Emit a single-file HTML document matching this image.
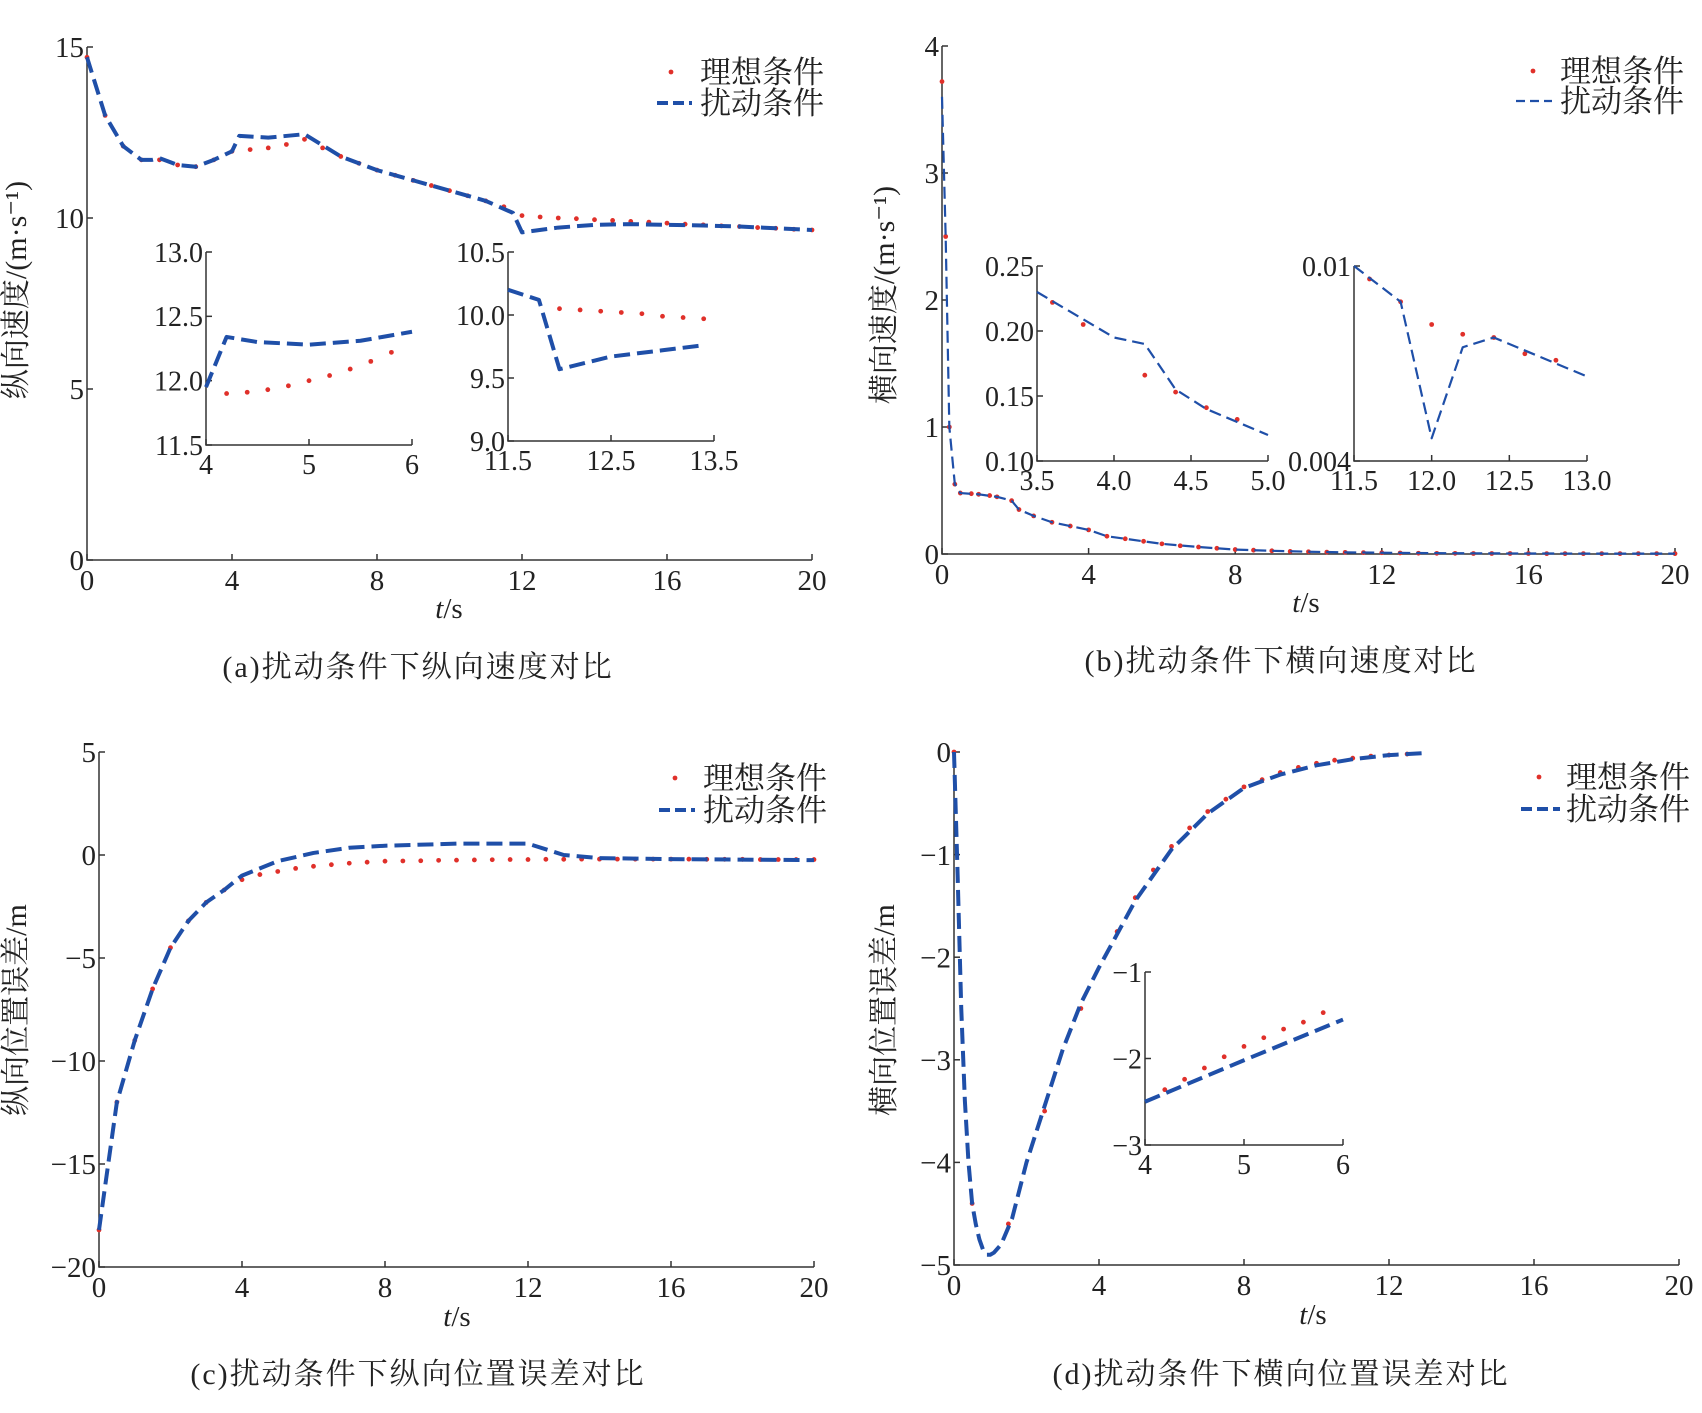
<!DOCTYPE html>
<html><head><meta charset="utf-8">
<style>
body{margin:0;background:#fff}
svg{display:block}
text{font-family:"Liberation Serif","Noto Serif CJK SC",serif;fill:#222}
</style></head>
<body>
<svg id="c" width="1702" height="1413" viewBox="0 0 1702 1413" xmlns="http://www.w3.org/2000/svg"></svg>
<script>
// ---- data ----
const aIdealT=[0,0.5,1,1.5,2,2.5,3,3.5,4,4.5,5,5.5,6,6.5,7,7.5,8,8.5,9,9.5,10,10.5,11,11.5,12,12.5,13,13.5,14,14.5,15,15.5,16,16.5,17,17.5,18,18.5,19,19.5,20];
const aIdealV=[14.7,13.0,12.1,11.7,11.7,11.55,11.5,11.7,11.95,12.0,12.05,12.15,12.3,12.05,11.8,11.6,11.4,11.25,11.1,10.95,10.8,10.65,10.5,10.33,10.07,10.03,10.0,9.98,9.95,9.93,9.9,9.88,9.85,9.82,9.8,9.77,9.75,9.72,9.7,9.67,9.65];
const aDistT=[0,0.5,1,1.5,1.8,2,2.5,3,3.5,4,4.2,5,6,7,8,9,10,11,11.75,12,13,14,15,16,17,18,19,20];
const aDistV=[14.7,13.0,12.1,11.7,11.7,11.75,11.55,11.5,11.7,11.95,12.4,12.35,12.45,11.8,11.4,11.1,10.8,10.5,10.15,9.58,9.72,9.8,9.82,9.8,9.78,9.75,9.7,9.65];
const a1IdealT=[4.2,4.4,4.6,4.8,5.0,5.2,5.4,5.6,5.8];
const a1IdealV=[11.9,11.91,11.93,11.96,12.0,12.04,12.09,12.15,12.22];
const a1DistT=[4,4.2,4.5,5,5.5,6];
const a1DistV=[11.95,12.34,12.3,12.28,12.31,12.38];
const a2IdealT=[12.0,12.2,12.4,12.6,12.8,13.0,13.2,13.4];
const a2IdealV=[10.05,10.04,10.03,10.02,10.01,9.99,9.98,9.97];
const a2DistT=[11.5,11.8,12.0,12.5,13.0,13.4];
const a2DistV=[10.2,10.12,9.57,9.67,9.72,9.76];
const bIdealT=[0,0.1,0.2,0.35,0.5,0.8,1,1.3,1.5,1.9,2.1,2.5,3,3.5,4,4.5,5,5.5,6,6.5,7,7.5,8,8.5,9,9.5,10,10.5,11,11.5,12,12.5,13,13.5,14,14.5,15,15.5,16,16.5,17,17.5,18,18.5,19,19.5,20];
const bIdealV=[3.72,2.5,1.0,0.55,0.48,0.475,0.47,0.46,0.45,0.42,0.35,0.3,0.25,0.22,0.19,0.14,0.12,0.1,0.08,0.065,0.055,0.045,0.035,0.03,0.025,0.02,0.018,0.015,0.013,0.011,0.01,0.008,0.006,0.005,0.005,0.004,0.004,0.004,0.004,0.003,0.003,0.003,0.003,0.003,0.003,0.003,0.003];
const bDistT=[0,0.1,0.2,0.35,0.5,1,1.5,1.9,2.1,2.5,3,3.5,4,4.5,5,6,7,8,9,10,11,12,14,16,18,20];
const bDistV=[3.6,2.5,1.0,0.55,0.48,0.47,0.45,0.42,0.35,0.3,0.25,0.22,0.19,0.14,0.12,0.08,0.055,0.035,0.025,0.018,0.013,0.01,0.006,0.004,0.003,0.003];
const b1DistT=[3.5,4.0,4.2,4.4,4.6,5.0];
const b1DistV=[0.23,0.195,0.19,0.155,0.14,0.12];
const b1IdealT=[3.6,3.8,4.2,4.4,4.6,4.8];
const b1IdealV=[0.222,0.205,0.166,0.153,0.141,0.132];
const b2DistT=[11.5,11.8,12.0,12.2,12.4,13.0];
const b2DistV=[0.01,0.0089,0.0047,0.0075,0.0078,0.0066];
const b2IdealT=[11.6,11.8,12.0,12.2,12.4,12.6,12.8];
const b2IdealV=[0.0096,0.0089,0.0082,0.0079,0.0078,0.0073,0.0071];
const cIdealT=[0,0.5,1,1.5,2,2.5,3,3.5,4,4.5,5,5.5,6,6.5,7,7.5,8,8.5,9,9.5,10,10.5,11,11.5,12,12.5,13,13.5,14,14.5,15,15.5,16,16.5,17,17.5,18,18.5,19,19.5,20];
const cIdealV=[-18.2,-12,-9,-6.5,-4.5,-3.2,-2.3,-1.7,-1.2,-0.95,-0.8,-0.65,-0.55,-0.47,-0.4,-0.35,-0.3,-0.29,-0.28,-0.26,-0.25,-0.24,-0.23,-0.22,-0.22,-0.21,-0.21,-0.2,-0.2,-0.2,-0.2,-0.2,-0.2,-0.2,-0.21,-0.21,-0.21,-0.22,-0.22,-0.22,-0.22];
const cDistT=[0,0.5,1,1.5,2,2.5,3,3.5,4,5,6,7,8,10,12,13,14,16,20];
const cDistV=[-18.2,-12,-9,-6.5,-4.5,-3.2,-2.3,-1.7,-1.0,-0.3,0.1,0.35,0.45,0.55,0.55,0,-0.15,-0.2,-0.25];
const dDistT=[0,0.1,0.2,0.3,0.4,0.5,0.6,0.7,0.8,0.9,1.0,1.1,1.3,1.6,2,2.5,3,3.5,4,5,6,7,8,9,10,11,12,13];
const dDistV=[0,-1.2,-2.5,-3.4,-4.0,-4.4,-4.6,-4.75,-4.85,-4.9,-4.9,-4.88,-4.8,-4.55,-4.0,-3.45,-2.9,-2.45,-2.1,-1.45,-0.95,-0.6,-0.35,-0.22,-0.13,-0.07,-0.03,-0.01];
const dIdealT=[0,0.5,1.5,2.5,3.5,4.5,5,5.5,6,6.5,7,7.5,8,8.5,9,9.5,10,10.5,11,11.5,12,12.5];
const dIdealV=[0,-4.4,-4.6,-3.5,-2.5,-1.75,-1.42,-1.15,-0.92,-0.74,-0.58,-0.46,-0.34,-0.27,-0.2,-0.15,-0.11,-0.08,-0.06,-0.04,-0.03,-0.02];
const d1DistT=[4,5,6];
const d1DistV=[-2.5,-2.02,-1.55];
const d1IdealT=[4.2,4.4,4.6,4.8,5.0,5.2,5.4,5.6,5.8];
const d1IdealV=[-2.36,-2.24,-2.11,-1.98,-1.86,-1.76,-1.66,-1.58,-1.47];

const NS="http://www.w3.org/2000/svg";
const svg=document.getElementById('c');
function mk(tag,attrs,parent){const e=document.createElementNS(NS,tag);for(const k in attrs)e.setAttribute(k,attrs[k]);(parent||svg).appendChild(e);return e;}
function txt(x,y,s,size,anchor,parent){const t=mk('text',{x:x,y:y,'font-size':size,'text-anchor':anchor||'middle'},parent);t.textContent=s;return t;}

function axes(name,px0,px1,py0,py1,xmin,xmax,ymin,ymax,xt,yt,fs,xlab,ylab){
  const g=mk('g',{});
  
  
  const sx=v=>px0+(v-xmin)/(xmax-xmin)*(px1-px0);
  const sy=v=>py0-(v-ymin)/(ymax-ymin)*(py0-py1);
  const ax=mk('path',{d:`M${px0},${py1}V${py0}H${px1}`,stroke:'#333','stroke-width':1.5,fill:'none'},g);
  
  
  xt.forEach(v=>{mk('line',{x1:sx(v),x2:sx(v),y1:py0,y2:py0-6,stroke:'#333','stroke-width':1.5},g);
    const t=txt(sx(v),py0+fs+1,xlab(v),fs,'middle',g);
    
    });
  yt.forEach(v=>{mk('line',{x1:px0,x2:px0+6,y1:sy(v),y2:sy(v),stroke:'#333','stroke-width':1.5},g);
    const t=txt(px0-3,sy(v)+fs*0.35,ylab(v),fs,'end',g);
    
    });
  return {g,sx,sy};
}
function line(A,T,V,w,dash,name){
  const p=mk('polyline',{points:T.map((t,i)=>A.sx(t)+','+A.sy(V[i])).join(' '),fill:'none',stroke:'#1f4fa8','stroke-width':w,'stroke-dasharray':dash,'stroke-linejoin':'round'},A.g);
  
  
}
function dots(A,T,V,name){
  const g=mk('g',{},A.g);
  
  
  T.forEach((t,i)=>mk('circle',{cx:A.sx(t),cy:A.sy(V[i]),r:2.4,fill:'#e0302a'},g));
}
function legend(name,dx,dy,tx,y1,y2,dash,w){
  const g=mk('g',{});
  
  
  mk('circle',{cx:dx,cy:y1,r:2.4,fill:'#e0302a'},g);
  txt(tx,y1+11,'理想条件',31,'start',g);
  mk('line',{x1:dy[0],x2:dy[1],y1:y2,y2:y2,stroke:'#1f4fa8','stroke-width':w,'stroke-dasharray':dash},g);
  txt(tx,y2+11,'扰动条件',31,'start',g);
}
function ylabel(name,x,y,s){
  const t=txt(0,0,s,30,'middle');
  t.setAttribute('transform',`translate(${x},${y}) rotate(-90)`);
  
  
}
function xlabel(name,x,y){
  const t=mk('text',{x:x,y:y,'font-size':29,'text-anchor':'middle'});
  t.innerHTML='<tspan font-style="italic">t</tspan>/s';
  
  
}
function caption(name,x,y,s){
  const t=txt(x,y,s,30,'middle');
  t.setAttribute('letter-spacing','2');
  
  
}
const f0=v=>String(v), f1=v=>v.toFixed(1), f2=v=>v.toFixed(2), fm=v=>v<0?'−'+Math.abs(v):String(v);
const T20=[0,4,8,12,16,20];
const DA='16 7', DB='12 6';

// (a)
let A=axes('plot-a',87,812,560,47,0,20,0,15,T20,[0,5,10,15],29,f0,f0);
dots(A,aIdealT,aIdealV,'series-a-ideal');line(A,aDistT,aDistV,4,DA,'series-a-disturbed');
let A1=axes('inset-a1',206,412,445,252,4,6,11.5,13,[4,5,6],[11.5,12,12.5,13],28,f0,f1);
dots(A1,a1IdealT,a1IdealV,'series-a1-ideal');line(A1,a1DistT,a1DistV,4,DA,'series-a1-disturbed');
let A2=axes('inset-a2',508,714,441,252,11.5,13.5,9,10.5,[11.5,12.5,13.5],[9,9.5,10,10.5],28,f1,f1);
dots(A2,a2IdealT,a2IdealV,'series-a2-ideal');line(A2,a2DistT,a2DistV,4,DA,'series-a2-disturbed');
legend('legend-a',671,[657,692],700,72,103,'11 5',4);
ylabel('y-axis-title-a',26,290,'纵向速度/(m·s⁻¹)');
xlabel('x-axis-title-a',449,618);caption('caption-a',418,677,'(a)扰动条件下纵向速度对比');

// (b)
let B=axes('plot-b',942,1675,554,46,0,20,0,4,T20,[0,1,2,3,4],29,f0,f0);
dots(B,bIdealT,bIdealV,'series-b-ideal');line(B,bDistT,bDistV,2.2,DB,'series-b-disturbed');
let B1=axes('inset-b1',1037,1268,461,266,3.5,5,0.1,0.25,[3.5,4,4.5,5],[0.1,0.15,0.2,0.25],28,f1,f2);
dots(B1,b1IdealT,b1IdealV,'series-b1-ideal');line(B1,b1DistT,b1DistV,2.2,DB,'series-b1-disturbed');
let B2=axes('inset-b2',1354,1587,461,266,11.5,13,0.004,0.01,[11.5,12,12.5,13],[0.004,0.01],28,f1,v=>v==0.01?'0.01':'0.004');
dots(B2,b2IdealT,b2IdealV,'series-b2-ideal');line(B2,b2DistT,b2DistV,2.2,DB,'series-b2-disturbed');
legend('legend-b',1533,[1516,1552],1560,71,101,'9 5',2.2);
ylabel('y-axis-title-b',894,295,'横向速度/(m·s⁻¹)');
xlabel('x-axis-title-b',1306,612);caption('caption-b',1281,671,'(b)扰动条件下横向速度对比');

// (c)
let C=axes('plot-c',99,814,1267,752,0,20,-20,5,T20,[-20,-15,-10,-5,0,5],29,f0,fm);
dots(C,cIdealT,cIdealV,'series-c-ideal');line(C,cDistT,cDistV,4,DA,'series-c-disturbed');
legend('legend-c',675,[659,695],703,778,810,'11 5',4);
ylabel('y-axis-title-c',26,1010,'纵向位置误差/m');
xlabel('x-axis-title-c',457,1326);caption('caption-c',418,1384,'(c)扰动条件下纵向位置误差对比');

// (d)
let D=axes('plot-d',954,1679,1265,752,0,20,-5,0,T20,[-5,-4,-3,-2,-1,0],29,f0,fm);
dots(D,dIdealT,dIdealV,'series-d-ideal');line(D,dDistT,dDistV,4,DA,'series-d-disturbed');
let D1=axes('inset-d1',1145,1343,1145,972,4,6,-3,-1,[4,5,6],[-3,-2,-1],28,f0,fm);
dots(D1,d1IdealT,d1IdealV,'series-d1-ideal');line(D1,d1DistT,d1DistV,4,DA,'series-d1-disturbed');
legend('legend-d',1539,[1521,1560],1566,777,809,'11 5',4);
ylabel('y-axis-title-d',894,1010,'横向位置误差/m');
xlabel('x-axis-title-d',1313,1324);caption('caption-d',1281,1384,'(d)扰动条件下横向位置误差对比');
</script>
</body></html>
